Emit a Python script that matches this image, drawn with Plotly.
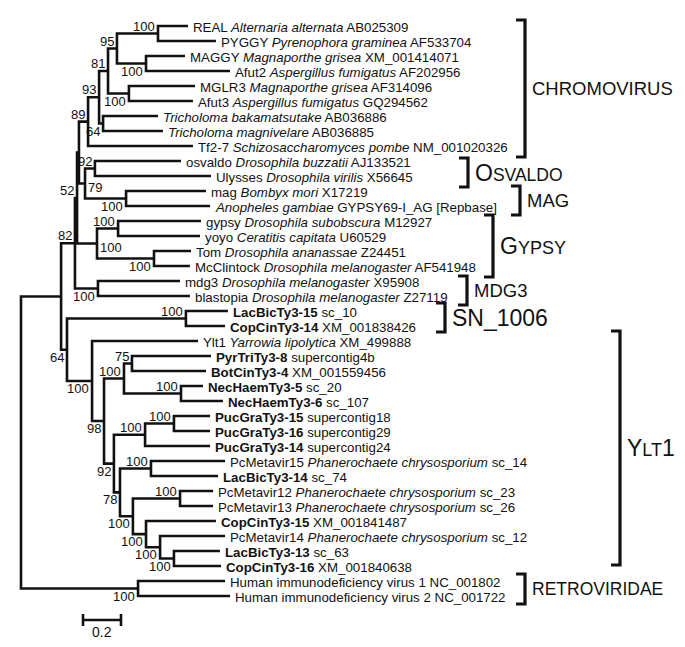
import plotly.graph_objects as go

# ---------------- data ----------------
leaf_labels = [
    "REAL <i>Alternaria alternata</i> AB025309",
    "PYGGY <i>Pyrenophora graminea</i> AF533704",
    "MAGGY <i>Magnaporthe grisea</i> XM_001414071",
    "Afut2 <i>Aspergillus fumigatus</i> AF202956",
    "MGLR3 <i>Magnaporthe grisea</i> AF314096",
    "Afut3 <i>Aspergillus fumigatus</i> GQ294562",
    "<i>Tricholoma bakamatsutake</i> AB036886",
    "<i>Tricholoma magnivelare</i> AB036885",
    "Tf2-7 <i>Schizosaccharomyces pombe</i> NM_001020326",
    "osvaldo <i>Drosophila buzzatii</i> AJ133521",
    "Ulysses <i>Drosophila virilis</i> X56645",
    "mag <i>Bombyx mori</i> X17219",
    "<i>Anopheles gambiae</i> GYPSY69-I_AG [Repbase]",
    "gypsy <i>Drosophila subobscura</i> M12927",
    "yoyo <i>Ceratitis capitata</i> U60529",
    "Tom <i>Drosophila ananassae</i> Z24451",
    "McClintock <i>Drosophila melanogaster</i> AF541948",
    "mdg3 <i>Drosophila melanogaster</i> X95908",
    "blastopia <i>Drosophila melanogaster</i> Z27119",
    "<b>LacBicTy3-15</b> sc_10",
    "<b>CopCinTy3-14</b> XM_001838426",
    "Ylt1 <i>Yarrowia lipolytica</i> XM_499888",
    "<b>PyrTriTy3-8</b> supercontig4b",
    "<b>BotCinTy3-4</b> XM_001559456",
    "<b>NecHaemTy3-5</b> sc_20",
    "<b>NecHaemTy3-6</b> sc_107",
    "<b>PucGraTy3-15</b> supercontig18",
    "<b>PucGraTy3-16</b> supercontig29",
    "<b>PucGraTy3-14</b> supercontig24",
    "PcMetavir15 <i>Phanerochaete chrysosporium</i> sc_14",
    "<b>LacBicTy3-14</b> sc_74",
    "PcMetavir12 <i>Phanerochaete chrysosporium</i> sc_23",
    "PcMetavir13 <i>Phanerochaete chrysosporium</i> sc_26",
    "<b>CopCinTy3-15</b> XM_001841487",
    "PcMetavir14 <i>Phanerochaete chrysosporium</i> sc_12",
    "<b>LacBicTy3-13</b> sc_63",
    "<b>CopCinTy3-16</b> XM_001840638",
    "Human immunodeficiency virus 1 NC_001802",
    "Human immunodeficiency virus 2 NC_001722",
]
# distance of each tip from the root (substitutions/site)
leaf_depth = [0.879, 1.026, 0.863, 1.100, 0.916, 0.905, 0.721, 0.747, 0.905,
              0.842, 1.000, 0.974, 0.995, 0.947, 0.942, 0.895, 0.889, 0.837,
              0.889, 1.089, 1.074, 0.932, 1.000, 0.974, 0.958, 1.063, 0.995,
              0.995, 0.995, 1.074, 1.037, 1.011, 1.011, 1.026, 1.074, 1.047,
              1.053, 1.074, 1.100]

# internal nodes (children listed before parents)
node_ids = ["A", "B", "C", "D", "E", "F", "G", "H", "OSV", "MAGn", "OM", "P",
            "GY1", "GY2", "GY", "Q", "MDG", "N82", "SN", "PB", "NH", "PBNH",
            "PG1516", "PG", "PL", "PM", "LC", "PLC", "CPLC", "U", "V", "W",
            "Z", "Y", "X", "R", "HIV", "ROOT"]
node_children = [[0, 1], [2, 3], ["A", "B"], [4, 5], ["C", "D"], [6, 7],
                 ["E", "F"], ["G", 8], [9, 10], [11, 12], ["OSV", "MAGn"],
                 ["H", "OM"], [13, 14], [15, 16], ["GY1", "GY2"], ["P", "GY"],
                 [17, 18], ["Q", "MDG"], [19, 20], [22, 23], [24, 25],
                 ["PB", "NH"], [26, 27], ["PG1516", 28], [29, 30], [31, 32],
                 [35, 36], [34, "LC"], [33, "PLC"], ["PM", "CPLC"], ["PL", "U"],
                 ["PG", "V"], ["PBNH", "W"], [21, "Z"], ["SN", "Y"], ["N82", "X"],
                 [37, 38], ["R", "HIV"]]
node_depth = [0.721, 0.658, 0.505, 0.568, 0.458, 0.432, 0.411, 0.353, 0.389,
              0.553, 0.337, 0.305, 0.511, 0.700, 0.400, 0.295, 0.405, 0.284,
              0.868, 0.584, 0.842, 0.542, 0.805, 0.653, 0.684, 0.837, 0.805,
              0.732, 0.658, 0.589, 0.521, 0.489, 0.437, 0.374, 0.242, 0.211,
              0.616, 0.0]
node_support = [100, 100, 95, 100, 81, 64, 93, 89, 92, 100, 79, None,
                100, 100, 100, 52, 100, 82, 100, 75, 100, 100,
                100, 100, 100, 100, 100, 100, 100, 100, 78, 92,
                98, 100, 64, None, 100, None]

clade_names = ["CHROMOVIRUS", "OSVALDO", "MAG", "GYPSY", "MDG3", "SN_1006",
               "YLT1", "RETROVIRIDAE"]
scale_bar_length = 0.2

# ---------------- style / layout ----------------
W, H = 685, 647
X0_PX, PX_PER_UNIT = 13.0, 190.0
Y0_PX, PX_PER_LEAF = 18.0, 15.0
FONT = "Liberation Sans, Arial, sans-serif"
INK = "#111111"


def px2x(p):
    return (p - X0_PX) / PX_PER_UNIT


def py2y(p):
    return (p - Y0_PX) / PX_PER_LEAF


label_side = {"B": "below", "D": "below", "F": "below", "MAGn": "below",
              "OM": "right", "GY": "right", "GY2": "below", "MDG": "below",
              "LC": "below", "PLC": "below", "CPLC": "below", "U": "below",
              "V": "below", "W": "below", "Z": "below", "Y": "below",
              "X": "below", "HIV": "below"}

# bracket x, top, bottom (pixels) and label markup
clade_style = {
    "CHROMOVIRUS": (517, 12, 149, "<span style='font-size:18.5px'>CHROMOVIRUS</span>"),
    "OSVALDO": (460, 150, 179, "<span style='font-size:23px'>O</span><span style='font-size:17.5px'>SVALDO</span>"),
    "MAG": (512, 178, 207, "<span style='font-size:18.5px'>MAG</span>"),
    "GYPSY": (485, 207, 269, "<span style='font-size:23px'>G</span><span style='font-size:18px'>YPSY</span>"),
    "MDG3": (459, 268, 297, "<span style='font-size:18.5px'>MDG3</span>"),
    "SN_1006": (437, 295, 324, "<span style='font-size:23px'>SN_1006</span>"),
    "YLT1": (612, 323, 557, "<span style='font-size:23px'>Y</span><span style='font-size:18px'>LT</span><span style='font-size:23px'>1</span>"),
    "RETROVIRIDAE": (517, 566, 596, "<span style='font-size:17.5px'>RETROVIRIDAE</span>"),
}
HOOK_PX = 9

# ---------------- build tree geometry ----------------
pos = {i: (leaf_depth[i], float(i)) for i in range(len(leaf_labels))}
xs, ys = [], []
for nid, ch, d in zip(node_ids, node_children, node_depth):
    c0, c1 = pos[ch[0]], pos[ch[-1]]
    y = (c0[1] + c1[1]) / 2.0
    pos[nid] = (d, y)
    xs += [c0[0], d, d, c1[0], None]
    ys += [c0[1], c0[1], c1[1], c1[1], None]

fig = go.Figure()
fig.add_trace(go.Scatter(x=xs, y=ys, mode="lines",
                         line=dict(color=INK, width=2.6),
                         hoverinfo="skip", showlegend=False))

annotations = []
# tip labels
for i, lab in enumerate(leaf_labels):
    annotations.append(dict(x=leaf_depth[i], y=i, text=lab, showarrow=False,
                            xanchor="left", yanchor="middle", xshift=3, yshift=-1.5,
                            font=dict(family=FONT, size=13.3, color=INK)))
# bootstrap labels
for nid, sup in zip(node_ids, node_support):
    if sup is None:
        continue
    x, y = pos[nid]
    side = label_side.get(nid, "above")
    if side == "above":
        a = dict(xanchor="right", yanchor="bottom", xshift=-1, yshift=-2)
    elif side == "below":
        a = dict(xanchor="right", yanchor="top", xshift=-1, yshift=2)
    else:
        a = dict(xanchor="left", yanchor="middle", xshift=1, yshift=-3.5)
    annotations.append(dict(x=x, y=y, text=str(sup), showarrow=False,
                            font=dict(family=FONT, size=13, color=INK), **a))

# clade brackets
shapes = []
for name in clade_names:
    bx, t, b, markup = clade_style[name]
    x1, x0 = px2x(bx), px2x(bx - HOOK_PX)
    y0, y1 = py2y(t), py2y(b)
    shapes.append(dict(type="path", xref="x", yref="y",
                       path=f"M {x0} {y0} L {x1} {y0} L {x1} {y1} L {x0} {y1}",
                       line=dict(color=INK, width=3.2)))
    annotations.append(dict(x=x1, y=(y0 + y1) / 2, text=markup, showarrow=False,
                            xanchor="left", yanchor="middle", xshift=5,
                            font=dict(family=FONT, size=18, color=INK)))

# scale bar
sb_x0 = px2x(75)
sb_y = py2y(612)
tick = 6 / PX_PER_LEAF
shapes.append(dict(type="line", xref="x", yref="y", x0=sb_x0, x1=sb_x0 + scale_bar_length,
                   y0=sb_y, y1=sb_y, line=dict(color=INK, width=2.6)))
for xx in (sb_x0, sb_x0 + scale_bar_length):
    shapes.append(dict(type="line", xref="x", yref="y", x0=xx, x1=xx,
                       y0=sb_y - tick, y1=sb_y + tick, line=dict(color=INK, width=2.6)))
annotations.append(dict(x=sb_x0 + scale_bar_length / 2, y=sb_y, text=str(scale_bar_length),
                        showarrow=False, xanchor="center", yanchor="top", yshift=-2,
                        font=dict(family=FONT, size=14, color=INK)))

fig.update_layout(
    width=W, height=H, autosize=False,
    margin=dict(l=0, r=0, t=0, b=0),
    paper_bgcolor="white", plot_bgcolor="white",
    xaxis=dict(range=[px2x(0), px2x(W)], visible=False, fixedrange=True),
    yaxis=dict(range=[py2y(H), py2y(0)], visible=False, fixedrange=True),
    shapes=shapes, annotations=annotations, showlegend=False,
)

fig.write_html("out.html")
